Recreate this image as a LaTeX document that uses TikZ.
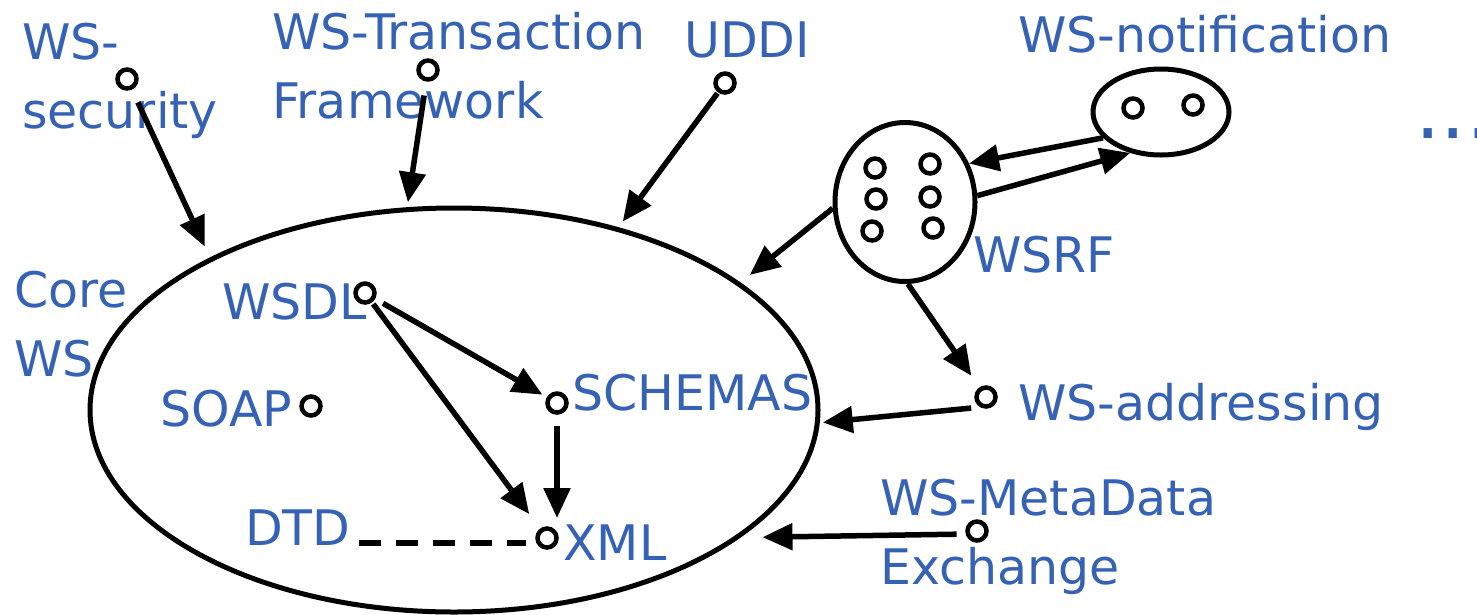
\documentclass[tikz,border=0pt]{standalone}
\usepackage{fontspec}
\setmainfont{DejaVu Sans}
\usetikzlibrary{shapes.geometric,arrows.meta}
\definecolor{wsblue}{RGB}{53,98,180}

\begin{document}
\begin{tikzpicture}[x=1pt,y=-1pt,
    lbl/.style={text=wsblue,font=\fontsize{49}{69}\selectfont,inner sep=0pt,anchor=base west,align=left},
    port/.style={circle,draw,line width=4.5pt,minimum size=19pt,inner sep=0pt},
    blob/.style={ellipse,draw,line width=5pt,inner sep=0pt},
    conn/.style={line width=5.5pt,-{Triangle[length=30pt,width=26pt]}}]
    \useasboundingbox (0,0) rectangle (1477,614);

    % Core WS
    \node[blob,minimum width=728pt,minimum height=404pt] (core) at (454,410) {};
    \node[lbl] (corelbl) at (14,376) {Core\\WS};
    \node[lbl] (wsdl) at (222,319) {WSDL};
    \node[port] (wsdlP) at (365,293) {};
    \node[lbl] (soap) at (160,426) {SOAP};
    \node[port] (soapP) at (311,406) {};
    \node[lbl] (schemas) at (572,410) {SCHEMAS};
    \node[port] (schP) at (557,403) {};
    \node[lbl] (dtd) at (245,545) {DTD};
    \node[lbl] (xml) at (563,560) {XML};
    \node[port] (xmlP) at (547,538) {};

    % Specs on top
    \node[lbl] (sec) at (22,128) {WS-\\security};
    \node[port] (secP) at (127,79) {};
    \node[lbl] (trans) at (272,118) {WS-Transaction\\Framework};
    \node[port] (transP) at (428,70) {};
    \node[lbl] (uddi) at (684,57) {UDDI};
    \node[port] (uddiP) at (725,83) {};

    % WSRF and WS-notification
    \node[blob,minimum width=140pt,minimum height=159pt] (wsrf) at (905,202) {};
    \node[lbl] (wsrflbl) at (973,272) {WSRF};
    \node[port] (r1) at (875,168) {};
    \node[port] (r2) at (930,164) {};
    \node[port] (r3) at (876,199) {};
    \node[port] (r4) at (930,197) {};
    \node[port] (r5) at (872,231) {};
    \node[port] (r6) at (933,228) {};
    \node[blob,minimum width=136pt,minimum height=86pt] (notif) at (1161,112) {};
    \node[lbl] (notiflbl) at (1018,52) {WS-notification};
    \node[port] (n1) at (1133,108) {};
    \node[port] (n2) at (1193,105) {};
    \node[lbl,font=\fontsize{80}{80}\selectfont] (more) at (1415,138) {...};

    % Specs on the right
    \node[lbl] (addr) at (1018,420) {WS-addressing};
    \node[port] (addrP) at (986,397) {};
    \node[lbl] (meta) at (880,584) {WS-MetaData\\Exchange};
    \node[port] (metaP) at (977,531) {};

    % Arrows into the core
    \draw[conn,shorten <=14pt,shorten >=12pt] (secP) -- (core.148);
    \draw[conn,shorten <=14pt,shorten >=5pt] (transP) -- (core.103);
    \draw[conn,shorten <=1pt,shorten >=7pt] (uddiP) -- (core.48);
    \draw[conn,shorten >=12pt] (wsrf.185) -- (core.24);
    \draw[conn,shorten <=9pt,shorten >=3pt] (addrP.240) -- (core.-2.5);
    \draw[conn,shorten <=9pt,shorten >=22pt] (metaP.195) -- (core.-24);

    % WSRF links
    \draw[conn,shorten >=14pt] (wsrf.-88) -- (addrP);
    \draw[conn] (notif.204) -- (wsrf.31);
    \draw[conn] (wsrf.5) -- (notif.233);

    % Inside the core
    \draw[conn,shorten <=9pt,shorten >=5pt] (wsdlP) -- (schP);
    \draw[conn,shorten <=2pt,shorten >=18pt] (wsdlP) -- (xmlP);
    \draw[conn,shorten <=11pt,shorten >=20pt] (schP) -- (schP |- xmlP);
    \draw[line width=6pt,dash pattern=on 22pt off 15pt]
        ([xshift=8pt,yshift=2pt]dtd.base east) -- ([xshift=-9pt,yshift=2pt]dtd.base east -| xmlP.west);
\end{tikzpicture}
\end{document}
